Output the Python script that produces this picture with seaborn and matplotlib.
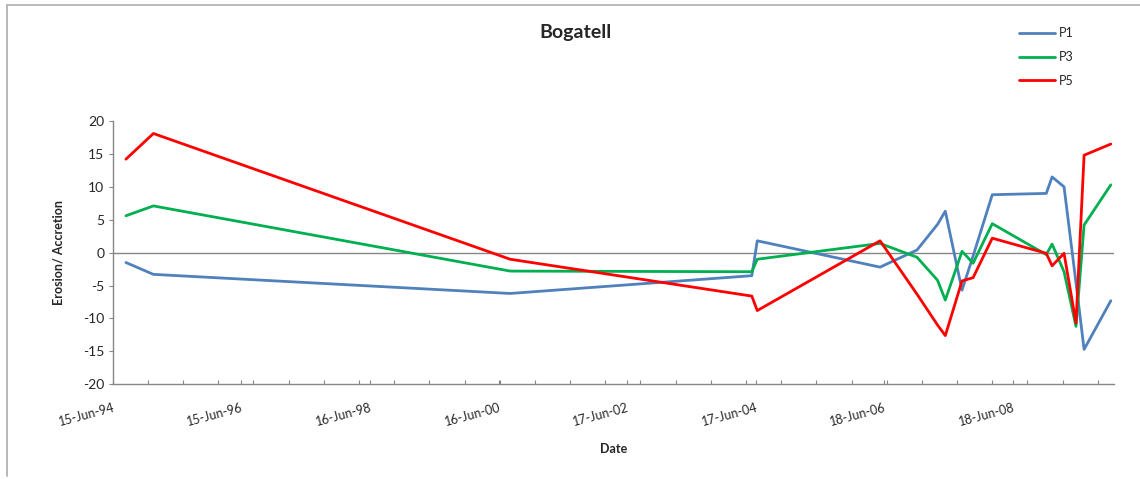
import matplotlib
matplotlib.use("Agg")
import matplotlib.pyplot as plt
import matplotlib.dates as mdates
from matplotlib.lines import Line2D
from matplotlib.ticker import FixedLocator
import numpy as np
import pandas as pd
import seaborn as sns

# Survey dates and erosion/accretion per profile
dates = ["1994-08-29", "1995-02-01", "2000-08-21", "2004-05-26", "2004-06-26",
         "2006-05-25", "2006-12-21", "2007-04-17", "2007-05-31", "2007-09-03",
         "2007-11-05", "2008-02-22", "2008-12-25", "2009-01-27", "2009-04-05",
         "2009-06-12", "2009-07-28", "2009-12-27"]
p1 = [-1.5, -3.3, -6.2, -3.5, 1.8, -2.2, 0.4, 4.3, 6.3, -5.7,
      -0.5, 8.8, 9.0, 11.5, 10.0, -4.6, -14.7, -7.3]
p3 = [5.6, 7.1, -2.8, -2.9, -1.0, 1.4, -0.7, -4.2, -7.2, 0.2,
      -1.6, 4.4, -0.3, 1.3, -2.9, -11.2, 4.2, 10.3]
p5 = [14.2, 18.1, -1.0, -6.6, -8.8, 1.8, -6.3, -11.0, -12.6, -4.3,
      -3.8, 2.2, -0.1, -2.0, -0.1, -10.7, 14.8, 16.5]
series_names = ["P1", "P3", "P5"]
series_colors = ["#4F81BD", "#00B050", "#FF0000"]
y_ticks = [-20, -15, -10, -5, 0, 5, 10, 15, 20]

axis_start = pd.Timestamp("1994-06-15")
axis_end = pd.Timestamp("2010-01-16")

df = pd.DataFrame({"Date": pd.to_datetime(dates), "P1": p1, "P3": p3, "P5": p5})
long = df.melt(id_vars="Date", var_name="Profile", value_name="Value")

sns.set_style("white")
plt.rcParams["font.family"] = ["Lato", "DejaVu Sans"]

fig = plt.figure(figsize=(11.4, 4.79), dpi=100)
ax = fig.add_axes([0.0989, 0.1977, 0.8786, 0.5497])

sns.lineplot(data=long, x="Date", y="Value", hue="Profile",
             hue_order=series_names, palette=series_colors,
             linewidth=2.0, ax=ax, legend=True)

ax.axhline(0, color="#868686", linewidth=1.0, zorder=0)

ax.set_ylim(-20, 20)
ax.set_xlim(axis_start, axis_end)
ax.set_yticks(y_ticks)
ax.set_yticklabels([str(v) for v in y_ticks], fontsize=10, color="#262626")

# Date axis: major every 731 days, minor every 200 days from the axis start
start_num = mdates.date2num(axis_start)
end_num = mdates.date2num(axis_end)
majors = np.arange(start_num, end_num, 731)
minors = np.arange(start_num, end_num, 200)
ax.xaxis.set_major_locator(FixedLocator(majors))
ax.xaxis.set_minor_locator(FixedLocator(minors))
ax.xaxis.set_major_formatter(mdates.DateFormatter("%d-%b-%y"))
for lab in ax.get_xticklabels():
    lab.set_rotation(15)
    lab.set_ha("right")
    lab.set_va("top")
    lab.set_rotation_mode("anchor")
    lab.set_fontsize(9)
    lab.set_color("#262626")

ax.tick_params(axis="x", which="both", direction="in", length=3, width=0.8,
               color="#868686", pad=12, bottom=True)
ax.tick_params(axis="y", which="major", direction="out", length=3, width=0.8,
               color="#868686", pad=3, left=True)

for side in ["top", "right"]:
    ax.spines[side].set_visible(False)
for side in ["left", "bottom"]:
    ax.spines[side].set_color("#868686")
    ax.spines[side].set_linewidth(1.0)

ax.set_xlabel("Date", fontsize=9, fontweight="bold")
ax.set_ylabel("Erosion/ Accretion", fontsize=9, fontweight="bold")
ax.xaxis.set_label_coords(0.5, -0.245)
ax.xaxis.label.set_va("center")
ax.yaxis.set_label_coords(-0.0546, 0.5)
ax.yaxis.label.set_va("center")

fig.text(0.505, 0.933, "Bogatell", ha="center", va="center",
         fontsize=14, fontweight="bold")

ax.legend(loc="upper left", bbox_to_anchor=(1019 / 1140, 1 - 27 / 479),
          bbox_transform=fig.transFigure, frameon=False, fontsize=9,
          handlelength=2.9, handletextpad=0.3, labelspacing=0.95,
          borderpad=0, borderaxespad=0)

# Chart area border
fig.add_artist(Line2D([7 / 1140, 7 / 1140], [1 - 476 / 479, 1 - 5 / 479],
                      transform=fig.transFigure, color="#B3B3B3", linewidth=1.3))
fig.add_artist(Line2D([7 / 1140, 1.0], [1 - 5 / 479, 1 - 5 / 479],
                      transform=fig.transFigure, color="#B3B3B3", linewidth=1.3))

fig.savefig("out.png", dpi=100, facecolor="white")
